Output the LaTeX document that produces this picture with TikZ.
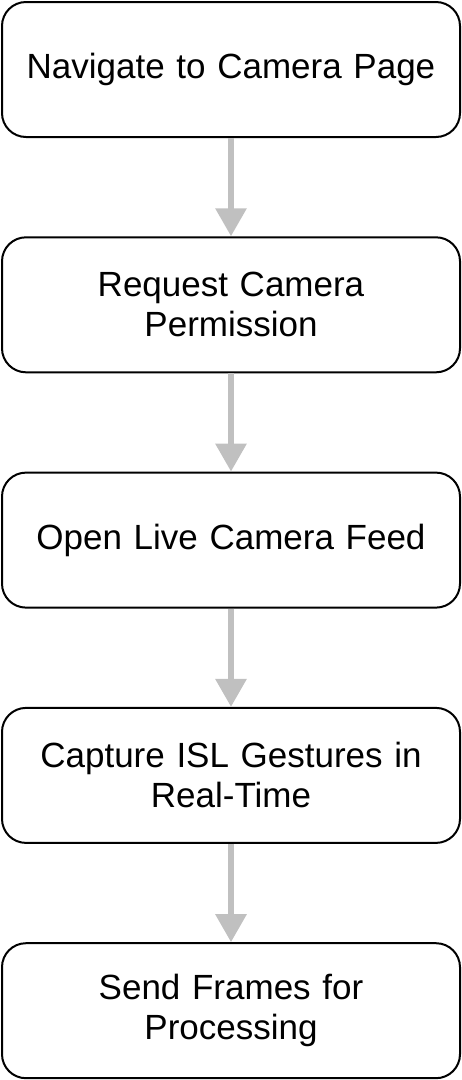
\documentclass[tikz,border=0pt]{standalone}
\usepackage{fontspec}
\setmainfont{Liberation Sans}
\usetikzlibrary{arrows.meta, positioning}

\definecolor{arrowgray}{HTML}{C0C0C0}

\tikzset{
    stepbox/.style={draw, line width=2pt, rounded corners=24pt, minimum width=458pt,
        minimum height=135pt, align=center, text width=420pt,
        font=\fontsize{35}{40}\selectfont},
    flow/.style={draw=arrowgray, line width=6pt, -{Triangle[width=30pt, length=28pt, fill=arrowgray]}}
}

\begin{document}
\begin{tikzpicture}[node distance=98.3pt, x=1pt, y=1pt]
    \useasboundingbox (0,0) rectangle (462,-1080);
    \node[stepbox] (nav) at (231,-69.5) {Navigate to Camera Page};
    \node[stepbox] (perm) [below=of nav] {Request Camera\\Permission};
    \node[stepbox] (feed) [below=of perm] {Open Live Camera Feed};
    \node[stepbox] (capture) [below=of feed] {Capture ISL Gestures in\\Real-Time};
    \node[stepbox] (send) [below=of capture] {Send Frames for\\Processing};

    \draw[flow] (nav) -- (perm);
    \draw[flow] (perm) -- (feed);
    \draw[flow] (feed) -- (capture);
    \draw[flow] (capture) -- (send);
\end{tikzpicture}
\end{document}
